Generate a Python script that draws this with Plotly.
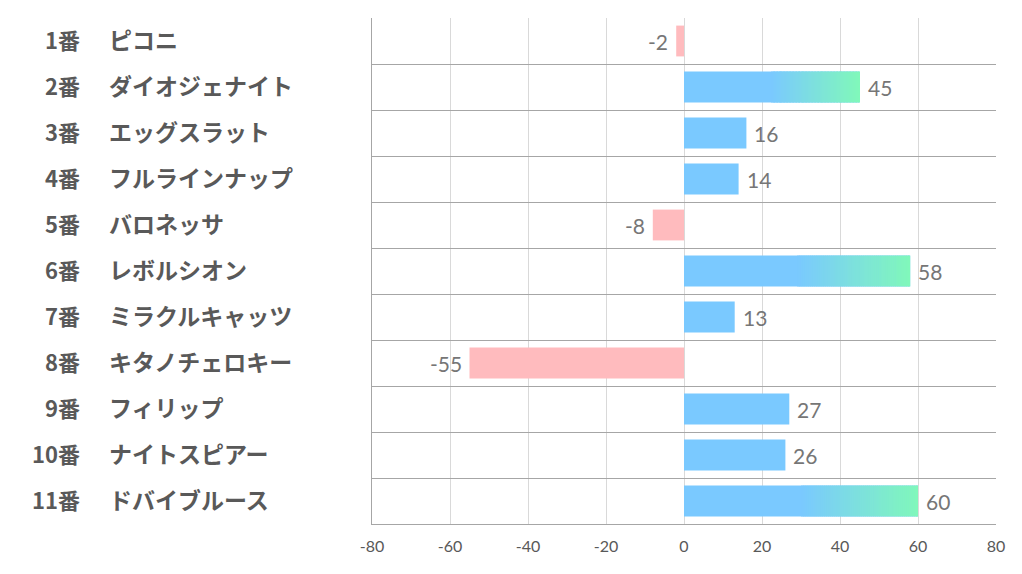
import plotly.graph_objects as go

numbers = ["1番", "2番", "3番", "4番", "5番", "6番", "7番", "8番", "9番", "10番", "11番"]
names = ["ピコニ", "ダイオジェナイト", "エッグスラット", "フルラインナップ", "バロネッサ",
         "レボルシオン", "ミラクルキャッツ", "キタノチェロキー", "フィリップ", "ナイトスピアー", "ドバイブルース"]
values = [-2, 45, 16, 14, -8, 58, 13, -55, 27, 26, 60]
x_ticks = [-80, -60, -40, -20, 0, 20, 40, 60, 80]

BLUE = (122, 201, 255)
GREEN = (128, 248, 186)
PINK = "rgb(255,187,190)"
GRAD_MIN = 30   # bars above this get a blue->green gradient on their outer part
GRAD_START = 0.5
N_SEG = 60

ypos = list(range(len(values)))

fig = go.Figure()

colors = [PINK if v < 0 else "rgb(%d,%d,%d)" % BLUE for v in values]
fig.add_trace(go.Bar(
    x=values, y=ypos, orientation="h", width=0.67,
    marker=dict(color=colors, line=dict(width=0)),
    hoverinfo="skip", showlegend=False,
))

# gradient overlay segments for long bars
for k in range(N_SEG):
    t = (k + 0.5) / N_SEG
    c = tuple(int(round(BLUE[i] + (GREEN[i] - BLUE[i]) * t)) for i in range(3))
    xs, bs, ys = [], [], []
    for y, v in zip(ypos, values):
        if v > GRAD_MIN:
            start = v * GRAD_START
            seg = v * (1 - GRAD_START) / N_SEG
            bs.append(start + seg * k)
            xs.append(seg * 1.3 if k < N_SEG - 1 else seg)
            ys.append(y)
    fig.add_trace(go.Bar(
        x=xs, base=bs, y=ys, orientation="h", width=0.67,
        marker=dict(color="rgb(%d,%d,%d)" % c, line=dict(width=0)),
        hoverinfo="skip", showlegend=False,
    ))

# value labels
for y, v in zip(ypos, values):
    fig.add_annotation(x=v, y=y, xref="x", yref="y", text=str(v),
                       xanchor="left" if v >= 0 else "right",
                       xshift=6 if v >= 0 else -6, yshift=0, showarrow=False,
                       font=dict(family="Lato, Open Sans, sans-serif", size=21, color="#767676"))

# category labels
for y, n, nm in zip(ypos, numbers, names):
    fig.add_annotation(x=0, y=y, xref="paper", yref="y", text="<b>%s</b>" % n,
                       xanchor="right", xshift=82 - 372, yshift=2, showarrow=False,
                       font=dict(family="Noto Sans CJK JP", size=22, color="#595959"))
    fig.add_annotation(x=0, y=y, xref="paper", yref="y", text="<b>%s</b>" % nm,
                       xanchor="left", xshift=107 - 372, yshift=2, showarrow=False,
                       font=dict(family="Noto Sans CJK JP", size=23, color="#595959"))

fig.update_layout(
    width=1014, height=566,
    margin=dict(l=364, r=26, t=10, b=50),
    paper_bgcolor="white", plot_bgcolor="white",
    barmode="overlay",
    xaxis=dict(range=[-80, 80], tickvals=x_ticks, ticktext=[str(t) for t in x_ticks],
               showgrid=True, gridcolor="#d9d9d9", gridwidth=1, zeroline=False,
               showline=True, linecolor="#a6a6a6", linewidth=1, ticks="",
               ticklabelstandoff=8,
               tickfont=dict(family="Lato, Open Sans, sans-serif", size=16, color="#595959")),
    yaxis=dict(range=[10.5, -0.5], tickvals=[i - 0.5 for i in range(12)],
               showticklabels=False, showgrid=True, gridcolor="#a6a6a6", gridwidth=1,
               zeroline=False, showline=True, linecolor="#a6a6a6", linewidth=1, ticks=""),
)

fig.write_html("out.html")
